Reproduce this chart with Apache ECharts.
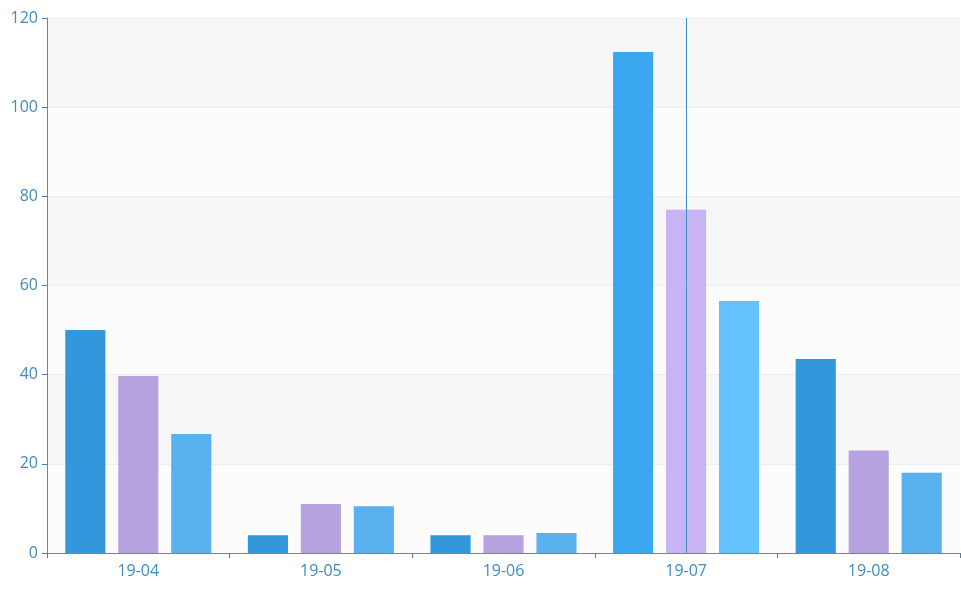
<!DOCTYPE html>
<html>
<head>
<meta charset="utf-8">
<script src="https://cdn.jsdelivr.net/npm/echarts@6/dist/echarts.min.js"></script>
<style>html,body{margin:0;padding:0;background:#fff;}#c{width:961px;height:592px;}</style>
</head>
<body>
<div id="c"></div>
<script>
var categories = ['19-04', '19-05', '19-06', '19-07', '19-08'];
var seriesA = [50, 4, 4, 112.4, 43.5];
var seriesB = [39.7, 11, 4, 77, 23];
var seriesC = [26.7, 10.5, 4.5, 56.5, 18];
var yTicks = [0, 20, 40, 60, 80, 100, 120];
var pointerIndex = 3;

var labelColor = '#3f8dbd';
var axisColor = '#3a96d6';
var chart = echarts.init(document.getElementById('c'));
var font = 'Open Sans, Noto Sans, sans-serif';
chart.setOption({
  animation: false,
  grid: { left: 47, right: 1, top: 18, bottom: 39, containLabel: false },
  tooltip: {
    trigger: 'axis', showContent: false,
    axisPointer: { type: 'line', lineStyle: { color: '#3d8fcc', width: 1, type: 'solid' } }
  },
  xAxis: {
    type: 'category', data: categories,
    axisLine: { lineStyle: { color: axisColor, width: 1 } },
    axisTick: { show: true, length: 5, lineStyle: { color: '#4a7ea6' } },
    axisLabel: { color: labelColor, fontSize: 16, fontFamily: font, margin: 10 },
    splitLine: { show: false }
  },
  yAxis: {
    type: 'value', min: yTicks[0], max: yTicks[yTicks.length - 1], interval: yTicks[1] - yTicks[0],
    axisLine: { show: true, lineStyle: { color: axisColor, width: 1 } },
    axisTick: { show: true, length: 5, lineStyle: { color: '#4a7ea6' } },
    axisLabel: { color: labelColor, fontSize: 16, fontFamily: font, margin: 9 },
    splitLine: { show: true, lineStyle: { color: '#eeeeee' } },
    splitArea: { show: true, areaStyle: { color: ['rgba(252,252,252,1)', 'rgba(247,247,247,1)'] } }
  },
  series: [
    { name: 'A', type: 'bar', data: seriesA, barGap: '32%', barCategoryGap: '20%',
      itemStyle: { color: '#3398db' }, emphasis: { itemStyle: { color: '#3aa7f0' } } },
    { name: 'B', type: 'bar', data: seriesB,
      itemStyle: { color: '#b6a2de' }, emphasis: { itemStyle: { color: '#c8b3f4' } } },
    { name: 'C', type: 'bar', data: seriesC,
      itemStyle: { color: '#5ab1ef' }, emphasis: { itemStyle: { color: '#63c2ff' } } }
  ]
});
chart.dispatchAction({ type: 'showTip', seriesIndex: 0, dataIndex: pointerIndex });
chart.dispatchAction({ type: 'highlight', seriesIndex: [0, 1, 2], dataIndex: pointerIndex });
</script>
</body>
</html>
